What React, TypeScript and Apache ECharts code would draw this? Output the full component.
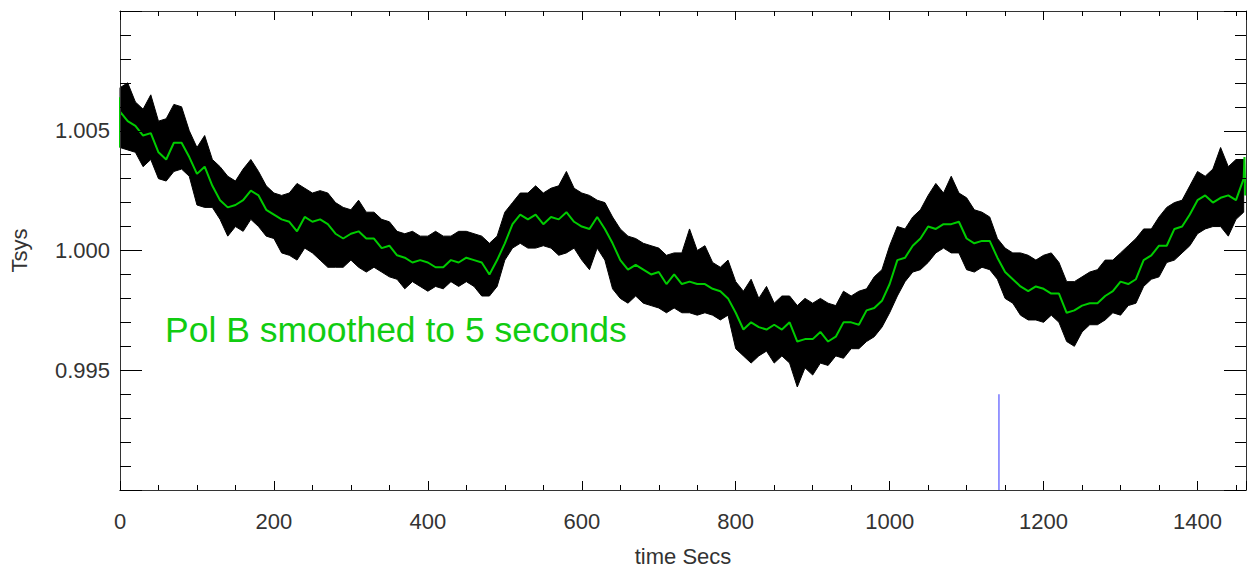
import React, { useEffect, useRef } from "react";
import * as echarts from "echarts";

// ---- data ----
const X_MAX = 1463;
const Y_MIN = 0.99;
const Y_MAX = 1.01;
const xTickLabels = ["0", "200", "400", "600", "800", "1000", "1200", "1400"];
const yTickLabels = ["0.995", "1.000", "1.005"];
const xTitle = "time Secs";
const yTitle = "Tsys";
const noteText = "Pol B smoothed to 5 seconds";

const SAMPLE_STEP = 10; // seconds between samples below

// upper edge of the black raw trace, every 10 s from 0 to 1460
const rawUpper = [
  1.0068, 1.007, 1.0062, 1.0059, 1.0065, 1.0054, 1.0055, 1.0061, 1.006, 1.005,
  1.0043, 1.0048, 1.0038, 1.0035, 1.0031, 1.0029, 1.0034, 1.0038, 1.0033, 1.0027,
  1.0024, 1.0023, 1.0024, 1.0028, 1.0026, 1.0024, 1.0025, 1.0024, 1.002, 1.0018,
  1.0017, 1.0021, 1.0016, 1.0016, 1.0013, 1.0012, 1.0008, 1.0007, 1.0008, 1.0006,
  1.0006, 1.0008, 1.0006, 1.0006, 1.0008, 1.0008, 1.0007, 1.0006, 1.0003, 1.0006,
  1.0016, 1.002, 1.0024, 1.0024, 1.0027, 1.0024, 1.0026, 1.0027, 1.0033, 1.0026,
  1.0024, 1.0023, 1.0021, 1.002, 1.0014, 1.0009, 1.0006, 1.0005, 1.0003, 1.0002,
  1.0001, 0.9998, 0.9999, 0.9999, 1.0009, 1.0, 1.0002, 0.9995, 0.9993, 0.9996,
  0.9987, 0.9983, 0.9988, 0.998, 0.9985, 0.9978, 0.9981, 0.9981, 0.9977, 0.998,
  0.9978, 0.998, 0.9978, 0.9977, 0.9983, 0.9981, 0.9983, 0.9984, 0.9989, 0.9992,
  1.0002, 1.001, 1.0009, 1.0014, 1.0017, 1.0023, 1.0028, 1.0024, 1.0031, 1.0024,
  1.0022, 1.0017, 1.0016, 1.0014, 1.0005, 1.0001, 0.9999, 0.9999, 0.9998, 0.9996,
  0.9998, 0.9999, 0.9995, 0.9987, 0.9987, 0.9989, 0.9991, 0.9992, 0.9996, 0.9996,
  0.9999, 1.0002, 1.0005, 1.0009, 1.0009, 1.0014, 1.0018, 1.002, 1.0021, 1.0027,
  1.0033, 1.0031, 1.0034, 1.0043, 1.0035, 1.0038, 1.0038,
];

// lower edge of the black raw trace, every 10 s from 0 to 1460
const rawLower = [
  1.0043, 1.0042, 1.0041, 1.0035, 1.0038, 1.003, 1.0029, 1.0033, 1.0034, 1.0031,
  1.0019, 1.0018, 1.0018, 1.0013, 1.0006, 1.001, 1.0008, 1.0013, 1.001, 1.0006,
  1.0005, 0.9999, 0.9998, 0.9996, 1.0001, 0.9999, 0.9996, 0.9993, 0.9993, 0.9993,
  0.9996, 0.9993, 0.9991, 0.9993, 0.9991, 0.9989, 0.9988, 0.9984, 0.9987, 0.9985,
  0.9983, 0.9985, 0.9984, 0.9987, 0.9985, 0.9987, 0.9985, 0.9981, 0.9981, 0.9985,
  0.9996, 1.0001, 1.0003, 1.0001, 1.0001, 1.0002, 1.0001, 0.9998, 0.9999, 1.0001,
  0.9996, 0.9992, 1.0001, 0.9996, 0.9984, 0.998, 0.9978, 0.9981, 0.9978, 0.9977,
  0.9976, 0.9974, 0.9976, 0.9974, 0.9974, 0.9973, 0.9974, 0.9973, 0.9971, 0.9973,
  0.9959, 0.9956, 0.9953, 0.9956, 0.9958, 0.9953, 0.9956, 0.9953, 0.9943, 0.9951,
  0.9948, 0.9953, 0.9952, 0.9956, 0.9955, 0.9959, 0.9959, 0.9962, 0.9964, 0.9968,
  0.9974, 0.9981, 0.9987, 0.9991, 0.9992, 0.9995, 0.9999, 1.0001, 0.9999, 0.9999,
  0.9992, 0.9991, 0.9993, 0.9992, 0.9988, 0.998, 0.9978, 0.9973, 0.9971, 0.9971,
  0.997, 0.9973, 0.997, 0.9962, 0.996, 0.9966, 0.9969, 0.9969, 0.9971, 0.9974,
  0.9973, 0.9977, 0.9978, 0.9985, 0.9988, 0.9989, 0.9995, 0.9996, 0.9999, 1.0002,
  1.0007, 1.0009, 1.001, 1.001, 1.0006, 1.0013, 1.0016,
];

// green smoothed curve, every 10 s from 0 to 1460
const smoothed = [
  1.0058, 1.0054, 1.0052, 1.0048, 1.0049, 1.0041, 1.0038, 1.0045, 1.0045, 1.0039,
  1.0032, 1.0035, 1.0027, 1.0021, 1.0018, 1.0019, 1.0021, 1.0025, 1.0023, 1.0017,
  1.0015, 1.0013, 1.0012, 1.0008, 1.0014, 1.0012, 1.0013, 1.0011, 1.0007, 1.0005,
  1.0007, 1.0008, 1.0005, 1.0005, 1.0001, 1.0002, 0.9998, 0.9997, 0.9995, 0.9996,
  0.9995, 0.9993, 0.9993, 0.9996, 0.9995, 0.9997, 0.9996, 0.9995, 0.999, 0.9996,
  1.0003, 1.0011, 1.0015, 1.0013, 1.0015, 1.0011, 1.0014, 1.0013, 1.0016, 1.0012,
  1.001, 1.0009, 1.0014, 1.0009, 1.0003, 0.9996, 0.9992, 0.9994, 0.9992, 0.999,
  0.9991, 0.9986, 0.999, 0.9986, 0.9987, 0.9986, 0.9986, 0.9984, 0.9983, 0.998,
  0.9974, 0.9967, 0.997, 0.9968, 0.9967, 0.9969, 0.9967, 0.997, 0.9962, 0.9963,
  0.9963, 0.9966, 0.9962, 0.9964, 0.997, 0.997, 0.9969, 0.9975, 0.9976, 0.9979,
  0.9986, 0.9996, 0.9997, 1.0002, 1.0005, 1.001, 1.0009, 1.0011, 1.0011, 1.0012,
  1.0005, 1.0003, 1.0004, 1.0004, 0.9997, 0.9991, 0.9988, 0.9985, 0.9983, 0.9985,
  0.9984, 0.9982, 0.9982, 0.9974, 0.9975, 0.9977, 0.9978, 0.9978, 0.9981, 0.9983,
  0.9987, 0.9986, 0.9988, 0.9996, 0.9998, 1.0002, 1.0002, 1.0009, 1.001, 1.0015,
  1.0021, 1.0023, 1.002, 1.0022, 1.0023, 1.0021, 1.003,
];

// unsmoothed ends of the green curve (edge samples left by the smoothing)
const smoothedHeadTimes = [0, 0];
const smoothedHead = [1.0064, 1.0043];
const smoothedTailTimes = [1461, 1462];
const smoothedTail = [1.0039, 1.0023];

// blue marker line
const markerTime = 1142;
const markerFrom = 0.99;
const markerTo = 0.994;

const FONT = "'Liberation Sans', Arial, Helvetica, sans-serif";
const TEXT_COLOR = "#333333";
const GREEN = "#00cc00";

export default function App() {
  const ref = useRef<HTMLDivElement>(null);

  useEffect(() => {
    if (!ref.current) return;
    const chart = echarts.init(ref.current, undefined, { renderer: "svg" });

    const bandData = rawUpper.map((u, i) => [i * SAMPLE_STEP, rawLower[i], u]);
    const smoothData = [
      ...smoothedHead.map((v, i) => [smoothedHeadTimes[i], v]),
      ...smoothed.map((v, i) => [i * SAMPLE_STEP, v]),
      ...smoothedTail.map((v, i) => [smoothedTailTimes[i], v]),
    ];

    const xBase = (position: "top" | "bottom", interval: number, tickLen: number, labels: boolean) => ({
      type: "value" as const,
      position,
      min: 0,
      max: X_MAX,
      interval,
      axisLine: { show: true, onZero: false, lineStyle: { color: "#333", width: 1 } },
      axisTick: { show: true, inside: true, length: tickLen, lineStyle: { color: "#000", width: 1 } },
      axisLabel: labels
        ? {
            show: true,
            fontSize: 22,
            fontFamily: FONT,
            color: TEXT_COLOR,
            margin: 20,
            formatter: (v: number) => (xTickLabels.includes(String(v)) ? String(v) : ""),
          }
        : { show: false },
      splitLine: { show: false },
      z: 10,
    });

    const yBase = (position: "left" | "right", labels: boolean) => ({
      type: "value" as const,
      position,
      min: Y_MIN,
      max: Y_MAX,
      interval: 0.005,
      axisLine: { show: true, onZero: false, lineStyle: { color: "#333", width: 1 } },
      axisTick: { show: true, inside: true, length: 22, lineStyle: { color: "#000", width: 1 } },
      minorTick: { show: true, splitNumber: 5, length: 11, lineStyle: { color: "#000", width: 1 } },
      axisLabel: labels
        ? {
            show: true,
            fontSize: 22,
            fontFamily: FONT,
            color: TEXT_COLOR,
            margin: 10,
            padding: [7, 0, 0, 0],
            formatter: (v: number) => {
              const s = v.toFixed(3);
              return yTickLabels.includes(s) ? s : "";
            },
          }
        : { show: false },
      splitLine: { show: false },
      minorSplitLine: { show: false },
      z: 10,
    });

    chart.setOption({
      animation: false,
      backgroundColor: "#ffffff",
      grid: { left: 120, top: 11, right: 7, bottom: 81, containLabel: false },
      xAxis: [
        {
          ...xBase("bottom", 200, 9, true),
          name: xTitle,
          nameLocation: "middle",
          nameGap: 55,
          nameTextStyle: { fontSize: 22, fontFamily: FONT, color: TEXT_COLOR },
        },
        xBase("bottom", 50, 5, false),
        xBase("top", 200, 9, false),
        xBase("top", 50, 5, false),
      ],
      yAxis: [
        {
          ...yBase("left", true),
          name: yTitle,
          nameLocation: "middle",
          nameGap: 90,
          nameRotate: 90,
          nameTextStyle: { fontSize: 22, fontFamily: FONT, color: TEXT_COLOR },
        },
        yBase("right", false),
      ],
      series: [
        {
          type: "custom",
          name: "raw",
          data: bandData,
          silent: true,
          z: 2,
          encode: { x: 0, y: [1, 2] },
          renderItem: (params: any, api: any) => {
            if (params.dataIndex !== 0) return null;
            const top = bandData.map((d) => api.coord([d[0], d[2]]));
            const bottom = bandData.map((d) => api.coord([d[0], d[1]])).reverse();
            return {
              type: "polygon",
              shape: { points: top.concat(bottom) },
              style: { fill: "#000", stroke: "#000", lineWidth: 1 },
            };
          },
        },
        {
          type: "line",
          name: "smoothed",
          data: smoothData,
          symbol: "none",
          lineStyle: { color: GREEN, width: 2 },
          silent: true,
          z: 3,
        },
        {
          type: "line",
          name: "marker",
          data: [
            [markerTime, markerFrom],
            [markerTime, markerTo],
          ],
          symbol: "none",
          lineStyle: { color: "#7777ff", width: 1.5 },
          silent: true,
          z: 3,
        },
      ],
      graphic: [
        {
          type: "text",
          x: 165,
          y: 330,
          z: 100,
          silent: true,
          style: {
            text: noteText,
            fontSize: 35.5,
            fontFamily: FONT,
            fill: "#11cc11",
            textAlign: "left",
            textVerticalAlign: "middle",
          },
        },
      ],
    });

    return () => chart.dispose();
  }, []);

  return (
    <div
      ref={ref}
      style={{ position: "fixed", left: 0, top: 0, width: 1253, height: 572, background: "#fff" }}
    />
  );
}
